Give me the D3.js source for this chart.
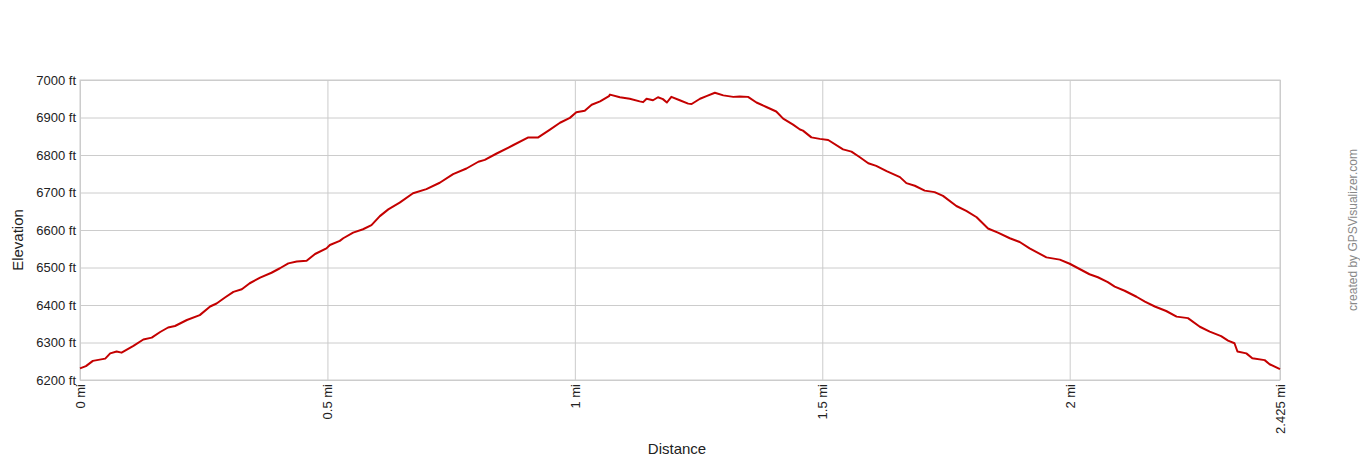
<!DOCTYPE html>
<html>
<head>
<meta charset="utf-8">
<script src="https://cdn.jsdelivr.net/npm/d3@7"></script>
<style>
  body { margin: 0; background: #fff; }
  svg text { font-family: "Liberation Sans", Arial, sans-serif; }
</style>
</head>
<body>
<svg id="chart" width="1360" height="460"></svg>
<script>
// distance (mi) and elevation (ft)
const distances = [
  0.000, 0.012, 0.026, 0.051, 0.061, 0.074, 0.084, 0.108, 0.128, 0.145,
  0.162, 0.178, 0.192, 0.216, 0.242, 0.263, 0.276, 0.293, 0.310, 0.327,
  0.343, 0.364, 0.387, 0.404, 0.421, 0.438, 0.458, 0.475, 0.498, 0.505,
  0.525, 0.532, 0.552, 0.572, 0.589, 0.606, 0.623, 0.646, 0.673, 0.700,
  0.727, 0.754, 0.781, 0.805, 0.818, 0.842, 0.875, 0.906, 0.926, 0.949,
  0.970, 0.990, 1.003, 1.020, 1.034, 1.051, 1.069, 1.071, 1.091, 1.111,
  1.131, 1.138, 1.145, 1.158, 1.168, 1.178, 1.186, 1.195, 1.212, 1.229,
  1.236, 1.253, 1.266, 1.283, 1.300, 1.320, 1.333, 1.350, 1.367, 1.387,
  1.407, 1.421, 1.441, 1.455, 1.461, 1.478, 1.495, 1.512, 1.542, 1.559,
  1.576, 1.593, 1.609, 1.630, 1.657, 1.670, 1.687, 1.707, 1.727, 1.744,
  1.771, 1.791, 1.812, 1.835, 1.855, 1.879, 1.899, 1.919, 1.953, 1.980,
  2.000, 2.020, 2.040, 2.057, 2.077, 2.091, 2.111, 2.135, 2.152, 2.172,
  2.195, 2.216, 2.239, 2.263, 2.283, 2.306, 2.320, 2.333, 2.339, 2.357,
  2.369, 2.394, 2.404, 2.425
];
const elevations = [
  6231, 6237, 6251, 6257, 6271, 6276, 6273, 6291, 6308, 6313,
  6328, 6340, 6344, 6360, 6373, 6396, 6404, 6420, 6435, 6442,
  6458, 6473, 6486, 6498, 6511, 6516, 6518, 6536, 6551, 6560,
  6571, 6578, 6593, 6602, 6613, 6637, 6655, 6673, 6698, 6709,
  6726, 6749, 6764, 6782, 6787, 6804, 6826, 6847, 6847, 6867,
  6886, 6899, 6914, 6918, 6934, 6943, 6957, 6961, 6954, 6950,
  6943, 6941, 6950, 6946, 6954, 6949, 6940, 6955, 6946, 6937,
  6936, 6950, 6957, 6966, 6959, 6955, 6956, 6955, 6940, 6928,
  6916, 6897, 6881, 6868, 6865, 6847, 6843, 6840, 6815, 6809,
  6794, 6778, 6771, 6757, 6741, 6725, 6718, 6705, 6701, 6691,
  6664, 6651, 6634, 6604, 6593, 6578, 6568, 6551, 6527, 6521,
  6510, 6496, 6482, 6474, 6461, 6449, 6438, 6422, 6409, 6396,
  6384, 6369, 6365, 6342, 6329, 6317, 6305, 6298, 6276, 6271,
  6258, 6253, 6242, 6229
];
const xTicks = [0, 0.5, 1, 1.5, 2, 2.425];
const yTicks = [6200, 6300, 6400, 6500, 6600, 6700, 6800, 6900, 7000];

const margin = { left: 80, top: 80, right: 80, bottom: 80 };
const plotW = 1200, plotH = 300;

const svg = d3.select("#chart");
const g = svg.append("g").attr("transform", `translate(${margin.left},${margin.top})`);

const x = d3.scaleLinear().domain([0, 2.425]).range([0, plotW]);
const y = d3.scaleLinear().domain([6200, 7000]).range([plotH, 0]);

// horizontal grid + labels
const yAxis = g.append("g")
  .call(d3.axisLeft(y).tickValues(yTicks).tickSize(-plotW).tickPadding(4)
    .tickFormat(d => d + " ft"));
yAxis.select(".domain").remove();
yAxis.selectAll("line").attr("stroke", "#cccccc");
yAxis.selectAll("text").attr("font-size", 13).attr("fill", "#222")
  .attr("font-family", "Liberation Sans, Arial, sans-serif");

// vertical grid + rotated labels
const xAxis = g.append("g").attr("transform", `translate(0,${plotH})`)
  .call(d3.axisBottom(x).tickValues(xTicks).tickSize(-plotH).tickPadding(0)
    .tickFormat(d => d + " mi"));
xAxis.select(".domain").remove();
xAxis.selectAll("line").attr("stroke", "#cccccc");
xAxis.selectAll("text")
  .attr("font-size", 13).attr("fill", "#222")
  .attr("font-family", "Liberation Sans, Arial, sans-serif")
  .attr("text-anchor", "end")
  .attr("transform", "rotate(-90)")
  .attr("x", -4).attr("y", 0).attr("dy", "0.35em");

// plot frame
g.append("rect").attr("width", plotW).attr("height", plotH)
  .attr("fill", "none").attr("stroke", "#cccccc");

// profile line
const line = d3.line()
  .x((d, i) => x(distances[i]))
  .y(d => y(d));
g.append("path").datum(elevations)
  .attr("d", line)
  .attr("fill", "none")
  .attr("stroke", "#c40000")
  .attr("stroke-width", 2)
  .attr("stroke-linejoin", "round");

// axis titles
svg.append("text").attr("x", 677).attr("y", 454)
  .attr("text-anchor", "middle").attr("font-size", 15).attr("fill", "#222")
  .text("Distance");
svg.append("text").attr("transform", "translate(23,240) rotate(-90)")
  .attr("text-anchor", "middle").attr("font-size", 15).attr("fill", "#222")
  .text("Elevation");

// credit
svg.append("text").attr("transform", "translate(1357,230) rotate(-90)")
  .attr("text-anchor", "middle").attr("font-size", 12).attr("fill", "#888")
  .text("created by GPSVisualizer.com");
</script>
</body>
</html>
